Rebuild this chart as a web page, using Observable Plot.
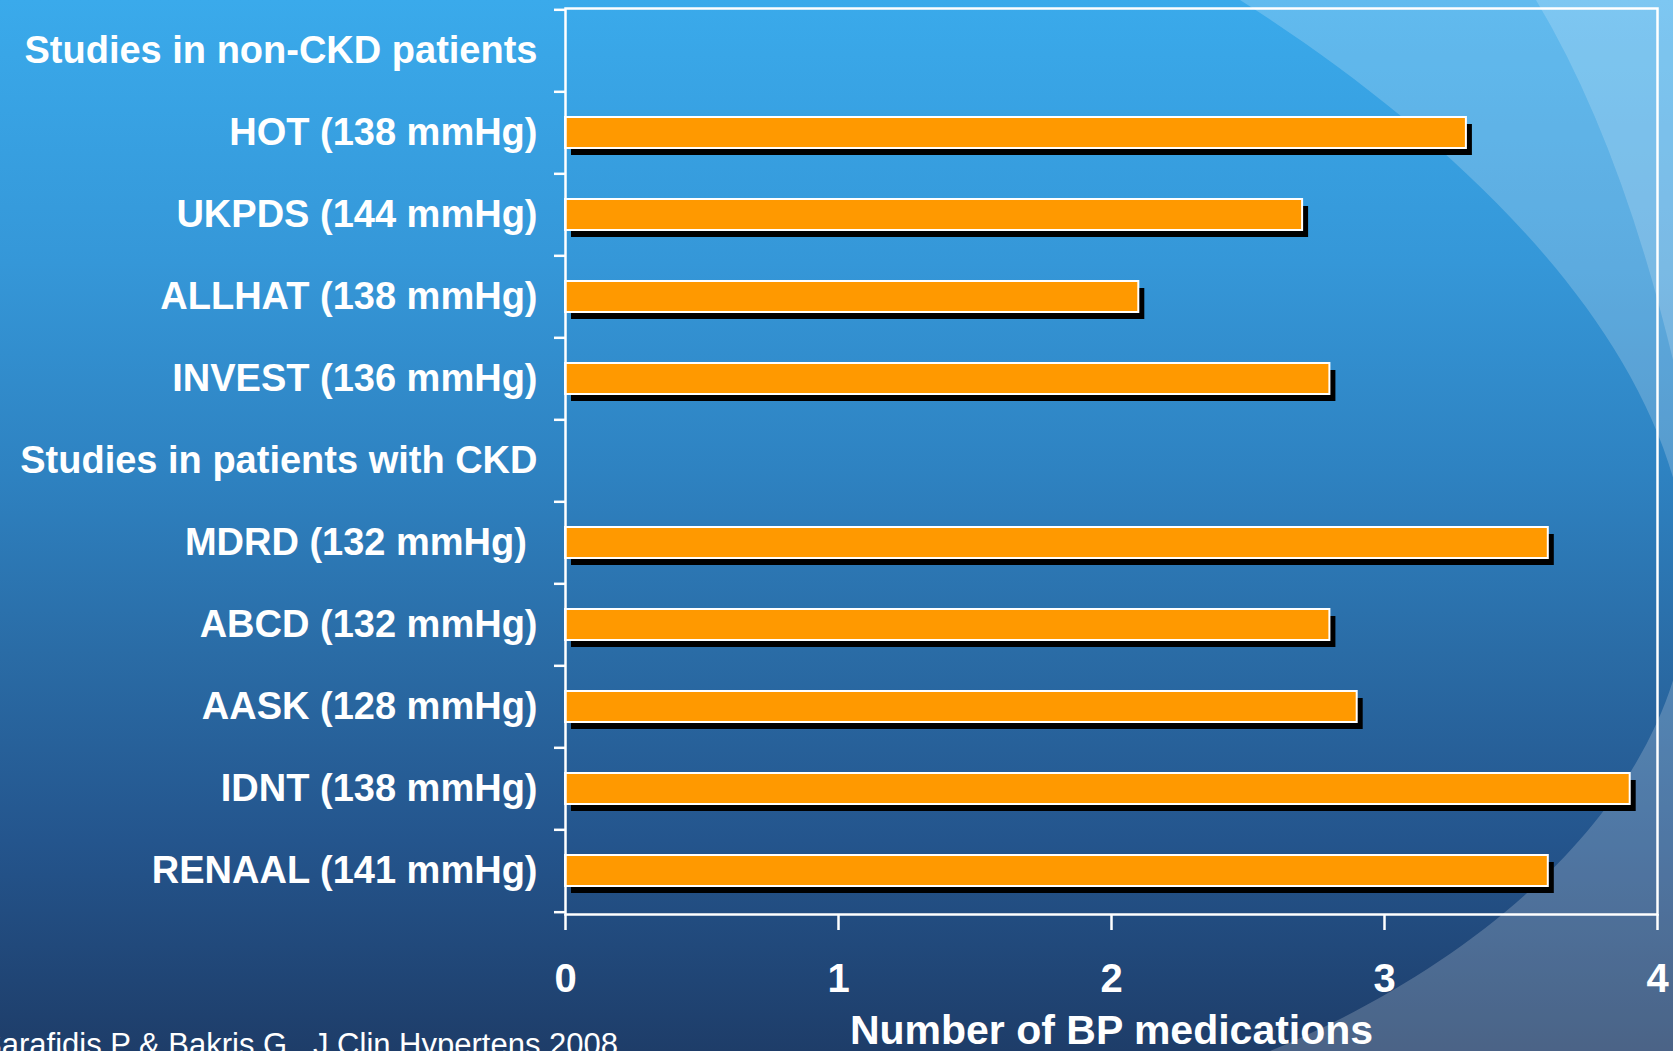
<!DOCTYPE html>
<html><head><meta charset="utf-8">
<script src="https://cdn.jsdelivr.net/npm/d3@7"></script>
<script src="https://cdn.jsdelivr.net/npm/@observablehq/plot@0.6"></script>
<style>
html,body{margin:0;padding:0;width:1673px;height:1051px;overflow:hidden;}
body{position:relative;background:linear-gradient(to bottom,#3aaaeb 0%,#3597d8 25%,#2e82c1 45%,#2a6ca6 62%,#24558d 80%,#1e3d69 100%);font-family:"Liberation Sans",Arial,sans-serif;}
#bg{position:absolute;left:0;top:0;}
#chart{position:absolute;left:0;top:0;}
#cite{position:absolute;right:1055px;top:1029px;color:white;font-size:31px;line-height:31px;white-space:pre;}
</style></head>
<body>
<svg id="bg" width="1673" height="1051">
<path d="M1240,0 C1460,140 1700,360 1688,600 C1676,800 1480,965 1270,1051 L1673,1051 L1673,0 Z" fill="rgba(255,255,255,0.2)"/>
<path d="M1536,0 Q1620,140 1673,360 L1673,0 Z" fill="rgba(255,255,255,0.18)"/>
</svg>
<div id="chart"></div>
<div id="cite">Sarafidis P &amp; Bakris G.  J Clin Hypertens 2008</div>
<script>
const categories = [
  "Studies in non-CKD patients",
  "HOT (138 mmHg)",
  "UKPDS (144 mmHg)",
  "ALLHAT (138 mmHg)",
  "INVEST (136 mmHg)",
  "Studies in patients with CKD",
  "MDRD (132 mmHg)\u00a0",
  "ABCD (132 mmHg)",
  "AASK (128 mmHg)",
  "IDNT (138 mmHg)",
  "RENAAL (141 mmHg)"
];
const values = [null, 3.3, 2.7, 2.1, 2.8, null, 3.6, 2.8, 2.9, 3.9, 3.6];
const xTicks = [0, 1, 2, 3, 4];
const xLabel = "Number of BP medications";

const W = 1673, H = 1051, mL = 565, mR = 16, mT = 8, mB = 137;
const step = (H - mT - mB) / categories.length;
const data = categories.map((c, i) => ({study: c, value: values[i]})).filter(d => d.value != null);
const font = '"Liberation Sans", Arial, sans-serif';

const plot = Plot.plot({
  width: W, height: H,
  marginLeft: mL, marginRight: mR, marginTop: mT, marginBottom: mB,
  style: {background: "transparent", color: "white", fontFamily: font, overflow: "visible"},
  x: {domain: [0, 4]},
  y: {domain: categories, paddingInner: 0.62, paddingOuter: 0.31},
  marks: [
    Plot.barX(data, {x: "value", y: "study", fill: "black", dx: 6, dy: 7}),
    Plot.barX(data, {x: "value", y: "study", fill: "#ff9900", stroke: "white", strokeWidth: 2}),
    Plot.frame({stroke: "white", strokeWidth: 2.5}),
    Plot.axisY({tickSize: 0, tickPadding: 28, fontSize: 38, fontWeight: "bold", fill: "white", label: null}),
    Plot.axisY({text: null, tickSize: 11, stroke: "white", strokeWidth: 2.5, dy: -step / 2, label: null}),
    Plot.axisY([categories[categories.length - 1]], {text: null, tickSize: 11, stroke: "white", strokeWidth: 2.5, dy: step / 2, label: null}),
    Plot.axisX({ticks: xTicks, tickFormat: d3.format("d"), tickSize: 16, tickPadding: 33, fontSize: 40, fontWeight: "bold", fill: "white", stroke: "white", strokeWidth: 2.5, label: null}),
    Plot.text([xLabel], {frameAnchor: "bottom", dy: 129, lineAnchor: "bottom", fontSize: 41, fontWeight: "bold", fill: "white"})
  ]
});
document.getElementById("chart").appendChild(plot);
</script>
</body></html>
